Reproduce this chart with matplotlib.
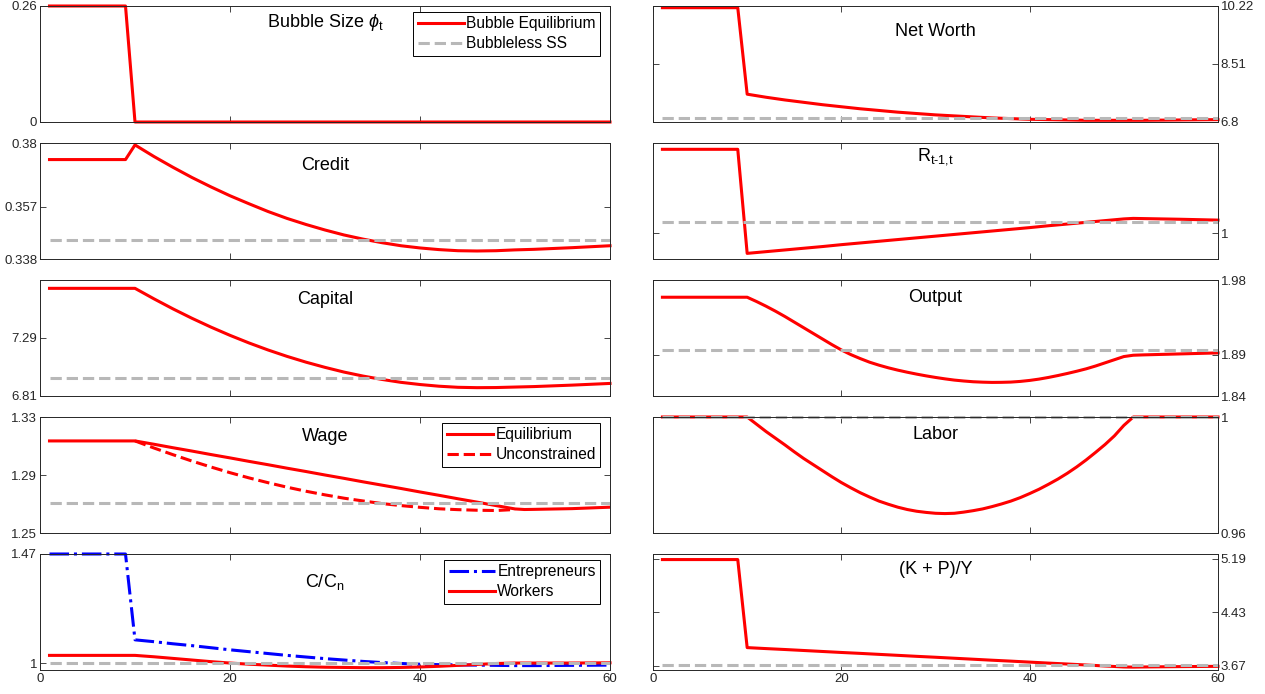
import numpy as np
import matplotlib
matplotlib.use("Agg")
import matplotlib.pyplot as plt
from matplotlib.ticker import FixedLocator, FixedFormatter

plt.rcParams['font.family'] = ['Liberation Sans', 'DejaVu Sans']
plt.rcParams['mathtext.fontset'] = 'custom'
plt.rcParams['mathtext.rm'] = 'Liberation Sans'
plt.rcParams['mathtext.it'] = 'Liberation Sans:italic'

nan = np.nan

t = [1, 9, 10, 12, 14, 16, 18, 20, 22, 24, 26, 28, 30, 32, 34, 36, 38, 40,
     42, 44, 46, 48, 50, 51, 52, 56, 60]
# finer grid for the two smooth right-hand curves
t_fine = [1, 9] + list(range(10, 53)) + [56, 60]

bubble = [0.26, 0.26] + [0.0] * 25
credit = [0.3740, 0.3740, 0.3793, 0.3751, 0.3712, 0.3675, 0.3641, 0.3609,
          0.3580, 0.3552, 0.3527, 0.3505, 0.3485, 0.3467, 0.3452, 0.3439,
          0.3428, 0.3420, 0.3414, 0.3410, 0.3409, 0.3410, 0.3413, 0.3414,
          0.3415, 0.3421, 0.3428]
capital = [7.701, 7.701, 7.701, 7.614, 7.531, 7.453, 7.380, 7.312, 7.249,
           7.191, 7.138, 7.090, 7.047, 7.008, 6.975, 6.947, 6.923, 6.905,
           6.891, 6.882, 6.879, 6.880, 6.884, 6.886, 6.888, 6.900, 6.914]
wage_eq = [1.3135, 1.3135, 1.3135, 1.3112, 1.3088, 1.3065, 1.3041, 1.3018,
           1.2994, 1.2971, 1.2947, 1.2924, 1.2900, 1.2877, 1.2853, 1.2830,
           1.2807, 1.2783, 1.2760, 1.2736, 1.2713, 1.2689, 1.2666, 1.2662,
           1.2663, 1.2668, 1.2678]
wage_unc = [nan, nan, 1.3135, 1.3086, 1.3040, 1.2996, 1.2955, 1.2916,
            1.2880, 1.2847, 1.2816, 1.2788, 1.2763, 1.2740, 1.2721, 1.2703,
            1.2689, 1.2677, 1.2667, 1.2661, 1.2657, 1.2655, 1.2662, nan,
            nan, nan, nan]
c_entre = [1.47, 1.47, 1.100, 1.092, 1.083, 1.075, 1.066, 1.057, 1.049,
           1.041, 1.033, 1.026, 1.019, 1.013, 1.007, 1.002, 0.998, 0.995,
           0.993, 0.992, 0.991, 0.990, 0.989, 0.989, 0.989, 0.990, 0.991]
c_work = [1.033, 1.033, 1.033, 1.027, 1.020, 1.013, 1.006, 1.000, 0.995,
          0.991, 0.987, 0.984, 0.982, 0.981, 0.980, 0.980, 0.981, 0.983,
          0.986, 0.990, 0.994, 0.998, 1.000, 1.000, 1.000, 1.000, 1.001]
networth = [10.17, 10.17, 7.62, 7.53, 7.45, 7.38, 7.31, 7.25, 7.19, 7.14,
            7.09, 7.05, 7.01, 6.98, 6.95, 6.92, 6.90, 6.88, 6.87, 6.86, 6.85,
            6.85, 6.85, 6.85, 6.85, 6.86, 6.87]
rate = [1.0493, 1.0493, 0.9883, 0.9893, 0.9903, 0.9913, 0.9923, 0.9934,
        0.9944, 0.9954, 0.9964, 0.9974, 0.9984, 0.9994, 1.0004, 1.0014,
        1.0024, 1.0034, 1.0045, 1.0055, 1.0065, 1.0075, 1.0085, 1.0088,
        1.0087, 1.0083, 1.0078]
output = [1.9592, 1.9592,
          1.9592, 1.9540, 1.9484, 1.9424, 1.9360, 1.9292, 1.9224, 1.9156,
          1.9088, 1.9020, 1.8956, 1.8900, 1.8852, 1.8808, 1.8772, 1.8740,
          1.8712, 1.8687, 1.8664, 1.8643, 1.8624, 1.8607, 1.8592, 1.8581,
          1.8572, 1.8567, 1.8564, 1.8565, 1.8568, 1.8576, 1.8588, 1.8604,
          1.8624, 1.8647, 1.8672, 1.8699, 1.8728, 1.8762, 1.8800, 1.8838,
          1.8876, 1.8892, 1.8896,
          1.8908, 1.8920]
labor = [1.0, 1.0,
         1.0, 0.9975, 0.9950, 0.9927, 0.9904, 0.9880, 0.9857, 0.9836,
         0.9815, 0.9794, 0.9774, 0.9756, 0.9739, 0.9724, 0.9710, 0.9699,
         0.9689, 0.9681, 0.9675, 0.9671, 0.9668, 0.9667, 0.9668, 0.9672,
         0.9677, 0.9683, 0.9691, 0.9700, 0.9710, 0.9722, 0.9736, 0.9751,
         0.9768, 0.9786, 0.9806, 0.9828, 0.9852, 0.9878, 0.9905, 0.9935,
         0.9971, 1.0, 1.0,
         1.0, 1.0]
kpy = [5.181, 5.181, 3.931, 3.917, 3.904, 3.890, 3.876, 3.862, 3.849, 3.835,
       3.821, 3.807, 3.794, 3.780, 3.766, 3.752, 3.739, 3.725, 3.711, 3.698,
       3.684, 3.670, 3.656, 3.654, 3.656, 3.661, 3.665]

# bubbleless steady state levels
ss = {"credit": 0.3449, "capital": 6.96, "wage": 1.2706,
      "cons": 1.0, "networth": 6.91, "rate": 1.0068, "output": 1.8956,
      "labor": 1.0, "kpy": 3.678}

RED = (1, 0, 0)
GRAY = (0.72, 0.72, 0.72)
BLUE = (0, 0, 1)
DARK = (0.15, 0.15, 0.15)
LW = 2.2

fig = plt.figure(figsize=(12.65, 6.94), dpi=100)


def make_axes(col, row, ylim, yticks, ylabels, title, title_y, last=False):
    W, H = 1265.0, 694.0
    if col == 0:
        x0, w = 40, 570
    else:
        x0, w = 653, 565
    top = 6 + 137 * row
    ax = fig.add_axes([x0 / W, 1 - (top + 116) / H, w / W, 116 / H])
    ax.set_xlim(0, 60)
    ax.set_ylim(*ylim)
    ax.xaxis.set_major_locator(FixedLocator([0, 20, 40, 60]))
    ax.yaxis.set_major_locator(FixedLocator(yticks))
    ax.yaxis.set_major_formatter(FixedFormatter(ylabels))
    ax.tick_params(direction='in', length=4, width=0.6, colors=DARK,
                   labelsize=9.5, top=True, right=True, pad=2)
    if col == 1:
        ax.tick_params(axis='y', labelleft=False, labelright=True)
    if not last:
        ax.tick_params(axis='x', labelbottom=False)
    for s in ax.spines.values():
        s.set_color(DARK)
        s.set_linewidth(0.7)
    ax.text(0.5, title_y, title, transform=ax.transAxes, ha='center',
            va='center', fontsize=13)
    return ax


def draw(ax, x, y, ss_val):
    ax.plot(x, y, color=RED, lw=LW, clip_on=False)
    ax.plot([1, 60], [ss_val, ss_val], color=GRAY, lw=LW, ls='--',
            clip_on=False)


def add_legend(ax, handles):
    leg = ax.legend(handles=handles, loc='upper right',
                    bbox_to_anchor=(0.983, 0.95), borderaxespad=0,
                    fontsize=11.2, handlelength=2.95, handletextpad=0.15,
                    labelspacing=0.3, borderpad=0.3, fancybox=False,
                    framealpha=1)
    leg.get_frame().set_edgecolor('black')
    leg.get_frame().set_linewidth(0.7)


# left column
ax = make_axes(0, 0, (0, 0.26), [0, 0.26], ['0', '0.26'],
               r'Bubble Size $\phi_{\mathrm{t}}$', 0.86)
l1, = ax.plot(t, bubble, color=RED, lw=LW, clip_on=False,
              label='Bubble Equilibrium')
l2, = ax.plot([], [], color=GRAY, lw=LW, ls='--', label='Bubbleless SS')
add_legend(ax, [l1, l2])

ax = make_axes(0, 1, (0.338, 0.38), [0.338, 0.357, 0.38],
               ['0.338', '0.357', '0.38'], 'Credit', 0.81)
draw(ax, t, credit, ss["credit"])

ax = make_axes(0, 2, (6.81, 7.77), [6.81, 7.29], ['6.81', '7.29'],
               'Capital', 0.83)
draw(ax, t, capital, ss["capital"])

ax = make_axes(0, 3, (1.25, 1.33), [1.25, 1.29, 1.33],
               ['1.25', '1.29', '1.33'], 'Wage', 0.83)
l1, = ax.plot(t, wage_eq, color=RED, lw=LW, label='Equilibrium')
l2, = ax.plot(t, wage_unc, color=RED, lw=LW, ls='--', label='Unconstrained')
ax.plot([1, 60], [ss["wage"]] * 2, color=GRAY, lw=LW, ls='--')
add_legend(ax, [l1, l2])

ax = make_axes(0, 4, (0.97, 1.47), [1, 1.47], ['1', '1.47'],
               r'C/C$_{\mathrm{n}}$', 0.76, last=True)
l1, = ax.plot(t, c_entre, color=BLUE, lw=LW, ls='-.', clip_on=False,
              label='Entrepreneurs')
l2, = ax.plot(t, c_work, color=RED, lw=LW, clip_on=False, label='Workers')
ax.plot([1, 60], [ss["cons"]] * 2, color=GRAY, lw=LW, ls='--')
add_legend(ax, [l1, l2])

# right column
ax = make_axes(1, 0, (6.8, 10.22), [6.8, 8.51, 10.22],
               ['6.8', '8.51', '10.22'], 'Net Worth', 0.78)
draw(ax, t, networth, ss["networth"])

ax = make_axes(1, 1, (0.985, 1.053), [1], ['1'],
               r'R$_{\mathrm{t\text{-}1{,}t}}$', 0.88)
draw(ax, t, rate, ss["rate"])

ax = make_axes(1, 2, (1.84, 1.98), [1.84, 1.89, 1.98],
               ['1.84', '1.89', '1.98'], 'Output', 0.85)
draw(ax, t_fine, output, ss["output"])

ax = make_axes(1, 3, (0.96, 1.0), [0.96, 1], ['0.96', '1'], 'Labor', 0.85)
draw(ax, t_fine, labor, ss["labor"])

ax = make_axes(1, 4, (3.613, 5.26), [3.67, 4.43, 5.19],
               ['3.67', '4.43', '5.19'], '(K + P)/Y', 0.87, last=True)
draw(ax, t, kpy, ss["kpy"])

fig.savefig('out.png', dpi=100)
